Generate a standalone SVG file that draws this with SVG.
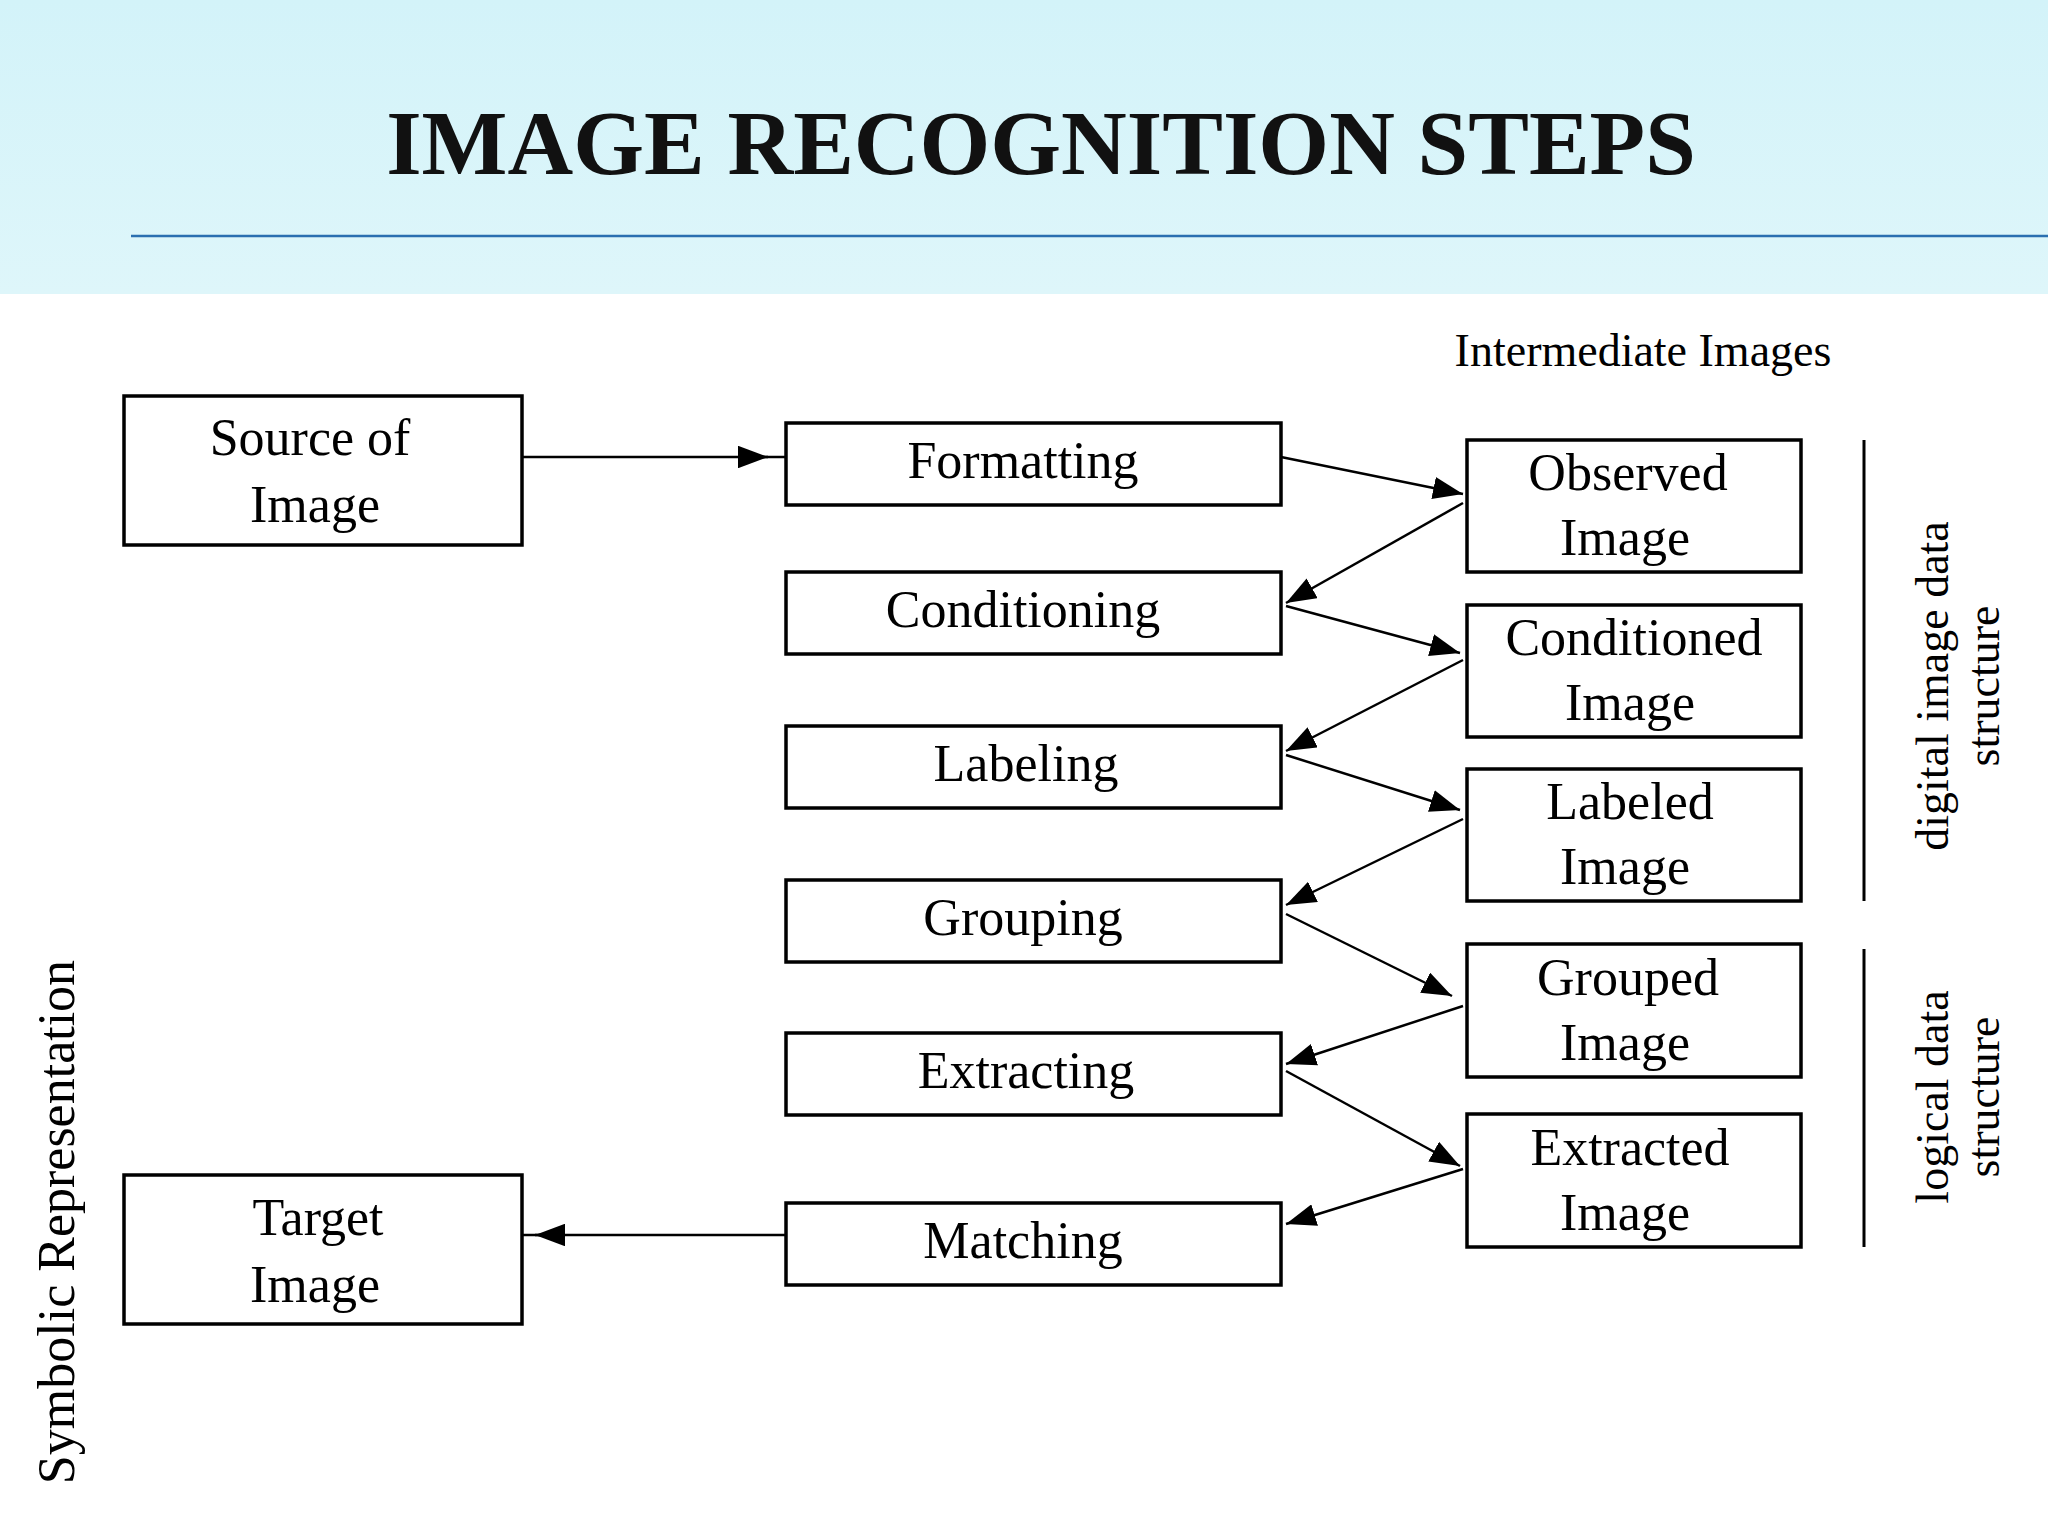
<svg xmlns="http://www.w3.org/2000/svg" width="2048" height="1536" viewBox="0 0 2048 1536">
<defs>
<linearGradient id="hd" x1="0" y1="0" x2="0" y2="1"><stop offset="0" stop-color="#d3f3f9"/><stop offset="1" stop-color="#def6fa"/></linearGradient>
<marker id="ah" markerWidth="12" markerHeight="9" refX="12" refY="4.5" orient="auto" markerUnits="strokeWidth"><path d="M0,0 L12,4.5 L0,9 z" fill="#000"/></marker>
</defs>
<style>
.b{fill:#fff;stroke:#000;stroke-width:3.5}
.t{font-family:"Liberation Serif",serif;font-size:52px;text-anchor:middle;fill:#000}
.c line{stroke:#000;stroke-width:2.5;marker-end:url(#ah)}
.s{font-family:"Liberation Serif",serif;font-size:46px;text-anchor:middle;fill:#000}
</style>
<rect width="2048" height="1536" fill="#fff"/>
<rect width="2048" height="294" fill="url(#hd)"/>
<line x1="131" y1="236" x2="2048" y2="236" stroke="#2a6fb0" stroke-width="2.5"/>
<text x="1041" y="174" font-family="Liberation Serif,serif" font-weight="bold" font-size="91" text-anchor="middle" fill="#111">IMAGE RECOGNITION STEPS</text>
<text class="s" x="1643" y="366">Intermediate Images</text>
<g id="source"><rect class="b" x="124" y="396" width="398" height="149"/><text class="t" x="310" y="455">Source of</text><text class="t" x="315" y="522">Image</text></g>
<g id="target"><rect class="b" x="124" y="1175" width="398" height="149"/><text class="t" x="318" y="1235">Target</text><text class="t" x="315" y="1302">Image</text></g>
<g id="formatting"><rect class="b" x="786" y="423" width="495" height="82"/><text class="t" x="1023" y="478">Formatting</text></g>
<g id="conditioning"><rect class="b" x="786" y="572" width="495" height="82"/><text class="t" x="1023" y="627">Conditioning</text></g>
<g id="labeling"><rect class="b" x="786" y="726" width="495" height="82"/><text class="t" x="1026" y="781">Labeling</text></g>
<g id="grouping"><rect class="b" x="786" y="880" width="495" height="82"/><text class="t" x="1023" y="935">Grouping</text></g>
<g id="extracting"><rect class="b" x="786" y="1033" width="495" height="82"/><text class="t" x="1026" y="1088">Extracting</text></g>
<g id="matching"><rect class="b" x="786" y="1203" width="495" height="82"/><text class="t" x="1023" y="1258">Matching</text></g>
<g id="observed"><rect class="b" x="1467" y="440" width="334" height="132"/><text class="t" x="1628" y="490">Observed</text><text class="t" x="1625" y="555">Image</text></g>
<g id="conditioned"><rect class="b" x="1467" y="605" width="334" height="132"/><text class="t" x="1634" y="655">Conditioned</text><text class="t" x="1630" y="720">Image</text></g>
<g id="labeled"><rect class="b" x="1467" y="769" width="334" height="132"/><text class="t" x="1630" y="819">Labeled</text><text class="t" x="1625" y="884">Image</text></g>
<g id="grouped"><rect class="b" x="1467" y="944" width="334" height="133"/><text class="t" x="1628" y="995">Grouped</text><text class="t" x="1625" y="1060">Image</text></g>
<g id="extracted"><rect class="b" x="1467" y="1114" width="334" height="133"/><text class="t" x="1630" y="1165">Extracted</text><text class="t" x="1625" y="1230">Image</text></g>
<g class="c" id="connectors">
<line x1="522" y1="457" x2="768" y2="457"/><line x1="760" y1="457" x2="786" y2="457" style="marker-end:none"/>
<line x1="1281" y1="457" x2="1463" y2="494"/>
<line x1="1463" y1="503" x2="1286" y2="603"/>
<line x1="1286" y1="606" x2="1460" y2="653"/>
<line x1="1463" y1="660" x2="1286" y2="751"/>
<line x1="1286" y1="755" x2="1460" y2="810"/>
<line x1="1463" y1="819" x2="1286" y2="905"/>
<line x1="1286" y1="914" x2="1452" y2="996"/>
<line x1="1463" y1="1006" x2="1286" y2="1064"/>
<line x1="1286" y1="1071" x2="1460" y2="1166"/>
<line x1="1463" y1="1169" x2="1286" y2="1224"/>
<line x1="786" y1="1235" x2="535" y2="1235"/><line x1="545" y1="1235" x2="522" y2="1235" style="marker-end:none"/>
</g>
<line x1="1864" y1="440" x2="1864" y2="901" stroke="#000" stroke-width="3"/>
<line x1="1864" y1="949" x2="1864" y2="1247" stroke="#000" stroke-width="3"/>
<text class="s" transform="translate(1948,686) rotate(-90)">digital image data</text>
<text class="s" transform="translate(1999,686) rotate(-90)">structure</text>
<text class="s" transform="translate(1948,1097) rotate(-90)">logical data</text>
<text class="s" transform="translate(1999,1097) rotate(-90)">structure</text>
<text class="t" transform="translate(74,1222) rotate(-90)">Symbolic Representation</text>
</svg>
